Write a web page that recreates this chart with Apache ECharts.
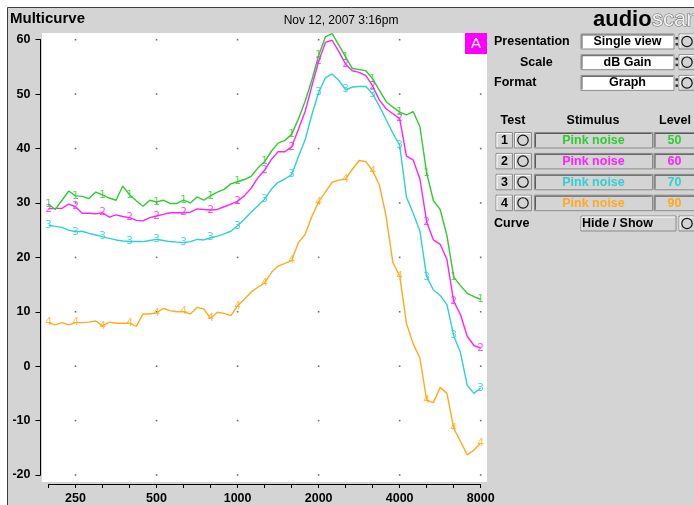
<!DOCTYPE html>
<html>
<head>
<meta charset="utf-8">
<title>Multicurve</title>
<script src="https://cdn.jsdelivr.net/npm/echarts@6/dist/echarts.min.js"></script>
<style>
  html, body { margin: 0; padding: 0; background: #fff; }
  #chart { width: 694px; height: 505px; }
</style>
</head>
<body>
<div id="chart"></div>
<script>
// 1/12-octave steps from 200 Hz (index 0) to 8000 Hz (index 64)
var xTickLabels = ['250', '500', '1000', '2000', '4000', '8000'];
var xTickSteps = [4, 16, 28, 40, 52, 64];
var yTicks = [-20, -10, 0, 10, 20, 30, 40, 50, 60];

// test 1..4, dB gain
var curve1 = [29.8, 28.8, 30.5, 32.2, 31.3, 31.2, 30.8, 32.0, 31.5, 30.9, 30.5, 33.1, 31.5, 30.4, 29.4, 30.5, 30.2,
  30.5, 29.9, 29.9, 30.5, 30.0, 31.1, 30.5, 31.3, 32.0, 32.5, 33.5, 33.9,
  34.3, 34.9, 36.4, 37.6, 39.5, 41.0, 41.5, 42.6, 45.4, 48.7, 52.6, 57.1, 60.5, 61.1, 59.0, 56.8, 54.7, 54.5, 54.3, 52.8,
  50.7, 48.6, 47.6, 46.7, 46.2, 46.8, 44.0, 35.5, 30.4, 28.8, 24.0, 16.4, 14.8, 13.4, 12.8, 12.3];
var curve2 = [28.9, 29.0, 29.0, 29.8, 29.3, 28.1, 28.1, 28.0, 28.2, 27.4, 27.8, 27.5, 27.3, 26.8, 26.7, 27.3, 27.6,
  27.9, 28.2, 28.2, 28.2, 28.3, 28.9, 28.8, 28.7, 28.8, 29.3, 29.8, 30.3,
  31.3, 32.7, 34.6, 36.0, 38.0, 39.4, 39.4, 40.3, 43.5, 46.8, 51.5, 56.0, 59.5, 59.9, 57.8, 55.5, 54.3, 54.0, 53.4, 51.5,
  48.9, 47.3, 46.4, 45.5, 38.6, 37.9, 34.4, 26.5, 23.2, 22.4, 19.6, 11.9, 9.5, 5.5, 3.8, 3.3];
var curve3 = [25.9, 25.7, 25.5, 25.0, 24.7, 24.8, 24.4, 24.1, 23.8, 23.5, 23.2, 23.0, 22.9, 22.9, 22.9, 23.1, 23.3,
  23.1, 22.9, 22.8, 22.7, 22.9, 23.3, 23.2, 23.6, 23.9, 24.3, 24.8, 25.8,
  27.0, 28.3, 29.5, 30.7, 32.5, 33.8, 34.4, 35.2, 38.5, 41.6, 46.2, 50.3, 53.0, 53.7, 52.5, 50.8, 51.3, 51.4, 51.4, 50.0,
  47.8, 45.3, 42.8, 40.6, 31.1, 28.1, 24.8, 16.4, 14.0, 13.0, 11.3, 5.6, 2.5, -3.5, -5.0, -4.0];
var curve4 = [8.0, 7.6, 8.0, 7.6, 8.0, 8.0, 8.1, 8.3, 7.4, 8.1, 7.9, 7.9, 7.9, 7.3, 9.6, 9.6, 9.8,
  10.6, 10.2, 10.0, 10.0, 9.6, 10.8, 10.5, 8.8, 9.9, 9.7, 9.3, 11.1,
  12.3, 13.6, 14.5, 15.3, 17.2, 18.4, 18.9, 19.4, 22.7, 24.2, 27.5, 30.2, 32.0, 33.8, 34.2, 34.4, 36.2, 37.8, 37.6, 35.9,
  33.3, 27.5, 19.0, 16.6, 7.9, 4.1, 1.5, -6.3, -6.7, -3.9, -5.0, -11.4, -13.8, -16.3, -15.4, -14.1];

var testNames = ['1', '2', '3', '4'];
var stimulusNames = ['Pink noise', 'Pink noise', 'Pink noise', 'Pink noise'];
var testLevels = ['50', '60', '70', '90'];
var curveColors = ['#2ecc2e', '#ff22ff', '#2ed0d0', '#ffaa1e'];

var BG = '#d4d4d4';
var BOLD = 'bold 12.5px "Liberation Sans", Arial, sans-serif';

function txt(s, x, y, align, font, fill) {
  return {
    type: 'text', silent: true, z: 5,
    style: { text: s, x: x, y: y, font: font || BOLD, fill: fill || '#000',
      align: align, verticalAlign: 'middle', textAlign: align, textVerticalAlign: 'middle' }
  };
}
function box(x, y, w, h, fill, raised) {
  var out = [{ type: 'rect', silent: true, z: 3, shape: { x: x, y: y, width: w, height: h },
    style: { fill: fill, stroke: '#8a8a8a', lineWidth: 1 } }];
  out.push({ type: 'polyline', silent: true, z: 4,
    shape: { points: [[x + 1, y + h - 1], [x + 1, y + 1], [x + w - 1, y + 1]] },
    style: { stroke: raised ? '#ffffff' : '#5a5a5a', fill: null, lineWidth: 1 } });
  return out;
}
function roundBtn(x, y, w, h) {
  var out = box(x, y, w, h, BG, true);
  out.push({ type: 'circle', silent: true, z: 5, shape: { cx: x + w / 2, cy: y + h / 2, r: 5.2 },
    style: { fill: null, stroke: '#111', lineWidth: 1.2 } });
  return out;
}
function spin(x, yc) {
  return [
    { type: 'rect', silent: true, z: 5, shape: { x: x, y: yc - 4.5, width: 2.5, height: 2.5 }, style: { fill: '#333' } },
    { type: 'rect', silent: true, z: 5, shape: { x: x, y: yc + 1.5, width: 2.5, height: 2.5 }, style: { fill: '#333' } }
  ];
}

var gfx = [];
// frame + plot background
gfx.push({ type: 'rect', silent: true, z: -20, shape: { x: 7.5, y: 7.5, width: 700, height: 510 },
  style: { fill: BG, stroke: '#3a3a3a', lineWidth: 1 } });
gfx.push({ type: 'rect', silent: true, z: -10, shape: { x: 42, y: 33, width: 445, height: 449 },
  style: { fill: '#ffffff' } });
// header
gfx.push(txt('Multicurve', 10, 18.5, 'left', 'bold 15px "Liberation Sans", Arial, sans-serif'));
gfx.push(txt('Nov 12, 2007 3:16pm', 341, 21, 'center', '12px "Liberation Sans", Arial, sans-serif'));
gfx.push(txt('audio', 593, 19.5, 'left', 'bold 22px "Liberation Sans", Arial, sans-serif'));
gfx.push({ type: 'text', silent: true, z: 5,
  style: { text: 'scan', x: 652, y: 19.5, font: '22px "Liberation Sans", Arial, sans-serif',
    fill: '#f0f0f0', stroke: '#6a6a6a', lineWidth: 1.1, align: 'left', verticalAlign: 'middle',
    textAlign: 'left', textVerticalAlign: 'middle' } });
// "A" tag
gfx.push({ type: 'rect', silent: true, z: 5, shape: { x: 465, y: 33, width: 22, height: 21 }, style: { fill: '#ff00ff' } });
gfx.push(txt('A', 476, 43.5, 'center', '15px "Liberation Sans", Arial, sans-serif', '#ffffff'));

// settings
var settingLabels = ['Presentation', 'Scale', 'Format'];
var settingValues = ['Single view', 'dB Gain', 'Graph'];
var settingLabelX = [494, 520, 494];
for (var i = 0; i < 3; i++) {
  var yc = 41.5 + i * 20.7;
  gfx.push(txt(settingLabels[i], settingLabelX[i], yc, 'left'));
  gfx = gfx.concat(box(581, yc - 7.5, 93, 15, '#ffffff', false));
  gfx.push(txt(settingValues[i], 627.5, yc, 'center'));
  gfx = gfx.concat(spin(675.5, yc));
  gfx = gfx.concat(roundBtn(679, yc - 7.5, 16, 15));
}

// test table
gfx.push(txt('Test', 513, 121, 'center'));
gfx.push(txt('Stimulus', 593, 121, 'center'));
gfx.push(txt('Level', 675, 121, 'center'));
for (var j = 0; j < 4; j++) {
  var ry = 140 + j * 20.9;
  gfx = gfx.concat(box(496, ry - 7.5, 16.5, 15.5, BG, true));
  gfx.push(txt(testNames[j], 504.5, ry + 0.5, 'center'));
  gfx = gfx.concat(roundBtn(514.5, ry - 7.5, 17, 15.5));
  gfx = gfx.concat(box(534.5, ry - 7.5, 118, 15.5, BG, false));
  gfx.push(txt(stimulusNames[j], 593.5, ry + 0.5, 'center', null, curveColors[j]));
  gfx = gfx.concat(box(654, ry - 7.5, 41, 15.5, BG, false));
  gfx.push(txt(testLevels[j], 674.5, ry + 0.5, 'center', null, curveColors[j]));
}
gfx.push(txt('Curve', 494, 223.5, 'left'));
gfx = gfx.concat(box(581, 216, 95, 15, BG, true));
gfx.push(txt('Hide / Show', 617.5, 223.5, 'center'));
gfx = gfx.concat(roundBtn(679, 216, 16, 15));

// grid dots at labelled frequencies x every 10 dB
var dotData = [];
xTickSteps.forEach(function (k) {
  yTicks.forEach(function (v) { dotData.push([k, v]); });
});

var curves = [curve1, curve2, curve3, curve4];
var series = [{
  type: 'scatter', data: dotData, symbol: 'rect', symbolSize: 1.6, silent: true,
  itemStyle: { color: '#4a4a4a' }, z: 1
}];
curves.forEach(function (c, n) {
  series.push({
    type: 'line', name: testNames[n], data: c.map(function (v, i) { return [i, v]; }),
    showSymbol: false, symbol: 'none', silent: true, clip: false, z: 10 - n,
    lineStyle: { color: curveColors[n], width: 1.4 }
  });
  // number markers on third-octave points
  var marks = [];
  c.forEach(function (v, i) { if (i % 4 === 0) marks.push([i, v]); });
  series.push({
    type: 'scatter', data: marks, symbol: 'circle', symbolSize: 1, silent: true, clip: false, z: 20 - n,
    itemStyle: { color: 'rgba(0,0,0,0)' },
    label: { show: true, position: 'inside', formatter: testNames[n], color: curveColors[n],
      fontSize: 10.5, fontFamily: '"DejaVu Sans", sans-serif' }
  });
});

var myChart = echarts.init(document.getElementById('chart'), null, { renderer: 'canvas' });
var option = {
  animation: false,
  backgroundColor: '#ffffff',
  grid: { left: 48.5, top: 39.7, width: 432.2, height: 435.6, containLabel: false },
  xAxis: {
    type: 'value', min: 0, max: 64, interval: 4, offset: 9,
    axisLine: { show: true, onZero: false, lineStyle: { color: '#000', width: 1 } },
    axisTick: { show: true, length: 4, lineStyle: { color: '#000' } },
    splitLine: { show: false },
    axisLabel: {
      show: true, margin: 8, color: '#000', fontSize: 12.5, fontWeight: 'bold',
      fontFamily: '"Liberation Sans", Arial, sans-serif',
      showMinLabel: true, showMaxLabel: true, hideOverlap: false,
      formatter: function (v) {
        var idx = xTickSteps.indexOf(Math.round(v));
        return idx >= 0 ? xTickLabels[idx] : '';
      }
    }
  },
  yAxis: {
    type: 'value', min: -20, max: 60, interval: 10, offset: 8,
    axisLine: { show: true, onZero: false, lineStyle: { color: '#000', width: 1 } },
    axisTick: { show: true, length: 5, lineStyle: { color: '#000' } },
    splitLine: { show: false },
    axisLabel: {
      show: true, margin: 10, color: '#000', fontSize: 12.5, fontWeight: 'bold',
      fontFamily: '"Liberation Sans", Arial, sans-serif'
    }
  },
  graphic: { elements: gfx },
  series: series
};
myChart.setOption(option);
</script>
</body>
</html>
